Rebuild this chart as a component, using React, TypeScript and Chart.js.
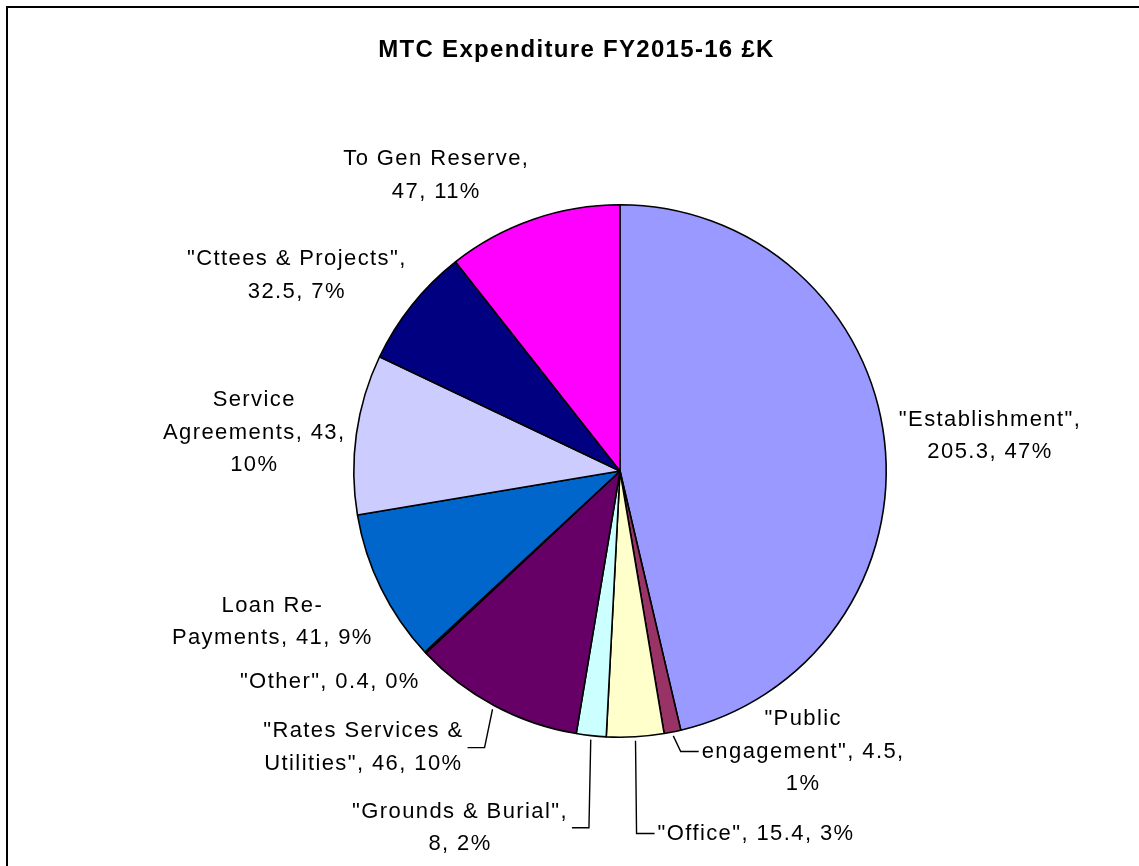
import React, { useEffect, useRef } from 'react';
import { Chart, registerables } from 'chart.js';

Chart.register(...registerables);

// ---- data ----
const categories = [
  '"Establishment"',
  '"Public engagement"',
  '"Office"',
  '"Grounds & Burial"',
  '"Rates Services & Utilities"',
  '"Other"',
  'Loan Re-Payments',
  'Service Agreements',
  '"Cttees & Projects"',
  'To Gen Reserve',
];
const values = [205.3, 4.5, 15.4, 8, 46, 0.4, 41, 43, 32.5, 47];
const percentLabels = [47, 1, 3, 2, 10, 0, 9, 10, 7, 11];
const colors = ['#9999FF', '#993366', '#FFFFCC', '#CCFFFF', '#660066', '#FF8080', '#0066CC', '#CCCCFF', '#000080', '#FF00FF'];
const titleText = 'MTC Expenditure FY2015-16 £K';

// ---- label layout (in units of pie radius, relative to pie centre) ----
const labelPos: number[][] = [
  [1.39, -0.132],
  [0.688, 1.054],
  [0.511, 1.362],
  [-0.601, 1.34],
  [-0.964, 1.039],
  [-1.09, 0.792],
  [-1.306, 0.567],
  [-1.374, -0.143],
  [-1.214, -0.735],
  [-0.69, -1.11],
];
const wrapWidths = [220, 222, 300, 232, 240, 300, 211, 208, 250, 208];
const hasLeader = [false, true, true, true, true, false, false, false, false, false];

const FONT = '"Liberation Sans", Arial, "DejaVu Sans", sans-serif';
const LABEL_SIZE = 22;
const LABEL_LS = 1.4;
const LINE_H = 32.5;

function measure(ctx: CanvasRenderingContext2D, s: string, ls: number) {
  return ctx.measureText(s).width + ls * s.length;
}

function wrap(ctx: CanvasRenderingContext2D, text: string, maxW: number, ls: number) {
  const tokens = text.match(/[^ \-]+[ \-]?|[ \-]/g) || [text];
  const lines: string[] = [];
  let line = '';
  for (const t of tokens) {
    const cand = line + t;
    if (line !== '' && measure(ctx, cand.trimEnd(), ls) > maxW) {
      lines.push(line.trimEnd());
      line = t;
    } else {
      line = cand;
    }
  }
  if (line.trim() !== '') lines.push(line.trimEnd());
  return lines;
}

const decorPlugin = {
  id: 'decor',
  beforeDraw(chart: any) {
    const ctx = chart.ctx as CanvasRenderingContext2D;
    ctx.save();
    ctx.strokeStyle = '#000';
    ctx.lineWidth = 2;
    ctx.beginPath();
    ctx.moveTo(7, chart.height + 5);
    ctx.lineTo(7, 7);
    ctx.lineTo(chart.width + 5, 7);
    ctx.stroke();
    // title
    ctx.fillStyle = '#000';
    ctx.font = `bold 24px ${FONT}`;
    (ctx as any).letterSpacing = '0px';
    const tw = measure(ctx, titleText, 1.3);
    (ctx as any).letterSpacing = '1.3px';
    ctx.textAlign = 'left';
    ctx.textBaseline = 'alphabetic';
    ctx.fillText(titleText, 576.5 - tw / 2, 57);
    ctx.restore();
  },
  afterDraw(chart: any) {
    const ctx = chart.ctx as CanvasRenderingContext2D;
    const meta = chart.getDatasetMeta(0);
    ctx.save();
    ctx.font = `${LABEL_SIZE}px ${FONT}`;
    ctx.fillStyle = '#000';
    ctx.strokeStyle = '#000';
    ctx.lineWidth = 1.4;
    meta.data.forEach((arc: any, i: number) => {
      const { x, y, outerRadius, startAngle, endAngle } = arc.getProps(['x', 'y', 'outerRadius', 'startAngle', 'endAngle'], true);
      const text = `${categories[i]}, ${values[i]}, ${percentLabels[i]}%`;
      (ctx as any).letterSpacing = '0px';
      const lines = wrap(ctx, text, wrapWidths[i], LABEL_LS);
      const widths = lines.map((l) => measure(ctx, l, LABEL_LS));
      const blockW = Math.max(...widths);
      const lx = x + labelPos[i][0] * outerRadius;
      const ly = y + labelPos[i][1] * outerRadius;
      (ctx as any).letterSpacing = `${LABEL_LS}px`;
      ctx.textAlign = 'left';
      ctx.textBaseline = 'middle';
      lines.forEach((l, k) => {
        const yy = ly + (k - (lines.length - 1) / 2) * LINE_H;
        ctx.fillText(l, lx - widths[k] / 2, yy);
      });
      if (hasLeader[i]) {
        const mid = (startAngle + endAngle) / 2;
        const sx = x + Math.cos(mid) * (outerRadius + 4);
        const sy = y + Math.sin(mid) * (outerRadius + 4);
        let ex: number, elx: number;
        if (lx < sx) {
          ex = lx + blockW / 2 + 4;
          elx = ex + 17;
        } else {
          ex = lx - blockW / 2 - 3;
          elx = ex - 18;
        }
        ctx.beginPath();
        ctx.moveTo(sx, sy);
        ctx.lineTo(elx, ly);
        ctx.lineTo(ex, ly);
        ctx.stroke();
      }
    });
    ctx.restore();
  },
};

export default function App() {
  const ref = useRef<HTMLCanvasElement | null>(null);
  useEffect(() => {
    if (!ref.current) return;
    const chart = new Chart(ref.current, {
      type: 'pie',
      data: {
        labels: categories,
        datasets: [
          {
            data: values,
            backgroundColor: colors,
            borderColor: '#000',
            borderWidth: 1.6,
          },
        ],
      },
      options: {
        responsive: false,
        animation: false,
        devicePixelRatio: 1,
        layout: { padding: { left: 353, right: 252, top: 204, bottom: 128 } },
        plugins: {
          legend: { display: false },
          tooltip: { enabled: false },
          title: { display: false },
        },
      },
      plugins: [decorPlugin],
    });
    return () => chart.destroy();
  }, []);
  return (
    <div style={{ position: 'absolute', left: 0, top: 0, width: 1139, height: 866, background: '#fff' }}>
      <canvas ref={ref} width={1139} height={866} style={{ display: 'block' }} />
    </div>
  );
}
